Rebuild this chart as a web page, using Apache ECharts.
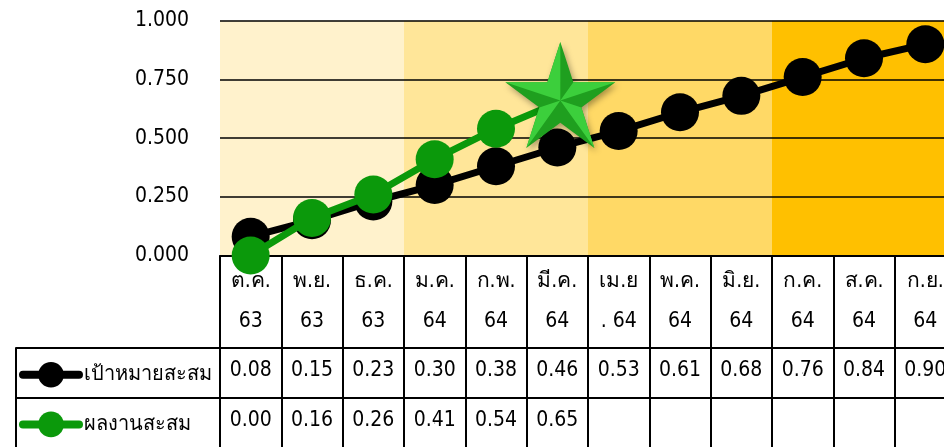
<!DOCTYPE html>
<html><head><meta charset="utf-8">
<script src="https://cdn.jsdelivr.net/npm/echarts@6/dist/echarts.min.js"></script>
<style>html,body{margin:0;padding:0;background:#fff}#c{width:944px;height:447px}</style>
</head><body><div id="c"></div>
<script>
const categories = ['ต.ค.\n63','พ.ย.\n63','ธ.ค.\n63','ม.ค.\n64','ก.พ.\n64','มี.ค.\n64','เม.ย\n. 64','พ.ค.\n64','มิ.ย.\n64','ก.ค.\n64','ส.ค.\n64','ก.ย.\n64'];
const targetName = 'เป้าหมายสะสม';
const actualName = 'ผลงานสะสม';
const target = [0.08,0.15,0.23,0.30,0.38,0.46,0.53,0.61,0.68,0.76,0.84,0.90];
const actual = [0.00,0.16,0.26,0.41,0.54,0.65,null,null,null,null,null,null];
const yTicks = [0,0.25,0.5,0.75,1];
const quarterStarts = [0,3,6,9];
const bandColors = ['#FFF2CC','#FFE699','#FFD966','#FFC000'];

const FONT = "Tahoma, 'DejaVu Sans Condensed', 'DejaVu Sans', sans-serif";
const lastIdx = actual.reduce((m,v,i)=> v==null? m : i, 0);
const starPath = 'path://M0,-50L11.23,-15.45L47.55,-15.45L18.17,5.9L29.39,40.45L0,19.1L-29.39,40.45L-18.17,5.9L-47.55,-15.45L-11.23,-15.45Z';
const facetPath = 'path://M0,0L0,-50L-11.23,-15.45ZM0,0L47.55,-15.45L11.23,-15.45ZM0,0L-47.55,-15.45L-11.23,-15.45ZM0,0L29.39,40.45L18.17,5.9ZM0,0L-29.39,40.45L-18.17,5.9Z';

const chart = echarts.init(document.getElementById('c'));
const G = {outerBoundsMode:'none', containLabel:false};
chart.setOption({
  animation:false,
  textStyle:{fontFamily:FONT},
  legend:{orient:'vertical', left:14, top:357, itemWidth:56, itemHeight:32, itemGap:24,
    data:[targetName, actualName], textStyle:{fontSize:20, color:'#000', fontFamily:FONT},
    lineStyle:{width:8, cap:'round'}, selectedMode:false},
  grid:[
    Object.assign({left:220, width:736, top:20.7, height:234.8}, G),
    Object.assign({left:220, width:736, top:255.5, height:220}, G),
    Object.assign({left:16, width:940, top:348, height:100}, G),
    Object.assign({left:220, width:736, top:348, height:100}, G)
  ],
  xAxis:[
    {gridIndex:0, type:'category', data:categories, boundaryGap:true, z:3,
     axisLine:{lineStyle:{color:'#000', width:2}}, axisTick:{show:false},
     axisLabel:{interval:0, fontSize:21, lineHeight:40, margin:6, color:'#000', fontFamily:FONT}},
    {gridIndex:0, type:'value', min:0, max:12, show:false},
    {gridIndex:1, type:'category', data:categories, boundaryGap:true,
     axisLine:{show:false}, axisTick:{show:false}, axisLabel:{show:false},
     splitLine:{show:true, interval:0, lineStyle:{color:'#000', width:2}}},
    {gridIndex:2, type:'value', min:0, max:1, show:false},
    {gridIndex:3, type:'category', data:categories, show:false}
  ],
  yAxis:[
    {gridIndex:0, type:'value', min:0, max:1, interval:0.25, z:1,
     axisLine:{show:false}, axisTick:{show:false},
     axisLabel:{fontSize:21, color:'#000', margin:31, fontFamily:FONT, formatter:v=>v.toFixed(3)},
     splitLine:{lineStyle:{color:'#000', width:1.6}}},
    {gridIndex:1, type:'value', show:false},
    {gridIndex:2, type:'category', data:['t','a'], inverse:true, boundaryGap:true,
     axisLine:{show:true, lineStyle:{color:'#000', width:2}}, axisTick:{show:false}, axisLabel:{show:false},
     splitLine:{show:true, interval:0, lineStyle:{color:'#000', width:2}}},
    {gridIndex:3, type:'category', data:['t','a'], inverse:true, show:false}
  ],
  series:[
    {type:'line', xAxisIndex:1, yAxisIndex:0, data:[], silent:true, z:-1,
     markArea:{silent:true, z:-1, data: quarterStarts.map((s,i)=>[{xAxis:s, itemStyle:{color:bandColors[i]}},{xAxis:s+3}])}},
    {name:targetName, type:'line', xAxisIndex:0, yAxisIndex:0, data:target,
     symbol:'circle', symbolSize:38, itemStyle:{color:'#000'},
     lineStyle:{color:'#000', width:7, cap:'round'}, z:3},
    {name:actualName, type:'line', xAxisIndex:0, yAxisIndex:0,
     data: actual.map((v,i)=> i===lastIdx ? {value:v, symbol:starPath, symbolSize:[110,106], symbolOffset:[3,-8],
        itemStyle:{color:'#1f9f1f', shadowColor:'rgba(0,0,0,0.35)', shadowBlur:6, shadowOffsetX:2, shadowOffsetY:3}} : v),
     symbol:'circle', symbolSize:38, itemStyle:{color:'#0b990b'},
     lineStyle:{color:'#0b990b', width:7, cap:'round'}, z:4,
     markPoint:{silent:true, data:[{coord:[lastIdx, actual[lastIdx]], symbol:facetPath, symbolSize:[110,106], symbolOffset:[3,-8],
        itemStyle:{color:'#3ccf3c'}, label:{show:false}}]}},
    {type:'scatter', xAxisIndex:4, yAxisIndex:3, symbolSize:1, itemStyle:{color:'#000'}, silent:true,
     data: target.map((v,i)=>[i,0,v]).concat(actual.map((v,i)=> v==null? null : [i,1,v]).filter(d=>d)),
     label:{show:true, position:'inside', offset:[0,-2], fontSize:21, color:'#000', opacity:1,
       textBorderWidth:0, textBorderColor:'transparent', textShadowBlur:0, fontFamily:FONT,
       formatter:p=>p.value[2].toFixed(2)}}
  ]
});
</script></body></html>
